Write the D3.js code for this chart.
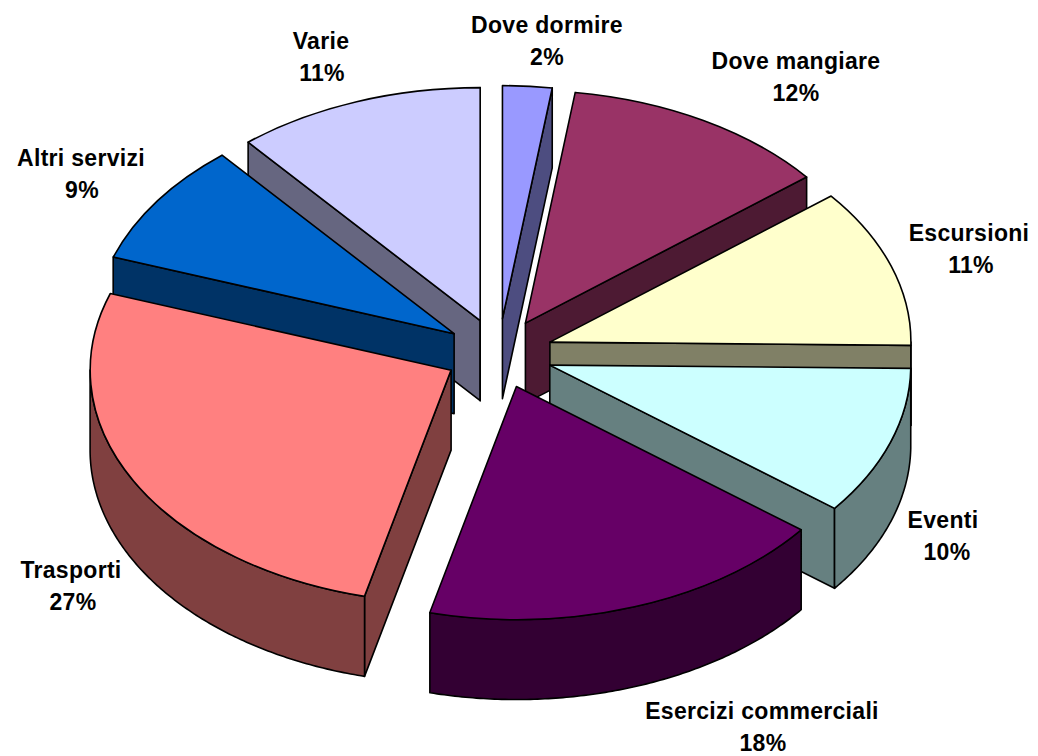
<!DOCTYPE html>
<html>
<head>
<meta charset="utf-8">
<script src="https://cdn.jsdelivr.net/npm/d3@7"></script>
<style>
  html, body { margin: 0; background: #fff; }
  svg { display: block; }
  text { font-family: "Liberation Sans", Arial, sans-serif; font-weight: bold; font-size: 23px; letter-spacing: 0.3px; fill: #000; }
</style>
</head>
<body>
<svg id="chart" width="1038" height="756"></svg>
<script>
// clockwise from 12 o'clock; shares, the labels show them rounded
const categories = ["Dove dormire", "Dove mangiare", "Escursioni", "Eventi", "Esercizi commerciali", "Trasporti", "Altri servizi", "Varie"];
const shares = [2.2, 12.0, 11.0, 10.3, 18.3, 26.45, 8.55, 11.1];
const percentLabels = ["2%", "12%", "11%", "10%", "18%", "27%", "9%", "11%"];

// layout and colours, not data: label x, label baseline, nudge of the percent line
const colors = ["#9999FF", "#993366", "#FFFFCC", "#CCFFFF", "#660066", "#FF8080", "#0066CC", "#CCCCFF"];
const labelAt = [[547, 33, 0], [796, 69, 0], [969, 241, 2], [943, 528, 4], [762, 719, 1], [71, 578, 2], [81, 166, 1], [321, 49, 1]];
const drawOrder = [0, 7, 1, 6, 2, 3, 5, 4];

const cx = 498.7, cy = 353.5, rx = 361, ry = 233, depth = 80, explode = 0.15;
const lineH = 32;

const svg = d3.select("#chart");
const x = d3.scaleLinear().domain([-1, 1]).range([cx - rx, cx + rx]);
const y = d3.scaleLinear().domain([-1, 1]).range([cy - ry, cy + ry]);
const half = c => { const k = d3.rgb(c); return d3.rgb(k.r / 2, k.g / 2, k.b / 2).formatHex(); };

const arcs = d3.pie().sort(null).value(d => d)(shares);
const topFace = d3.arc().innerRadius(0).outerRadius(1);
const poly = d3.line();

function drawSlice(i) {
    const a = arcs[i];
    const mid = (a.startAngle + a.endAngle) / 2;
    const ox = explode * Math.sin(mid), oy = -explode * Math.cos(mid);
    const px = t => x(ox + Math.sin(t));
    const py = t => y(oy - Math.cos(t));
    const ax = x(ox), ay = y(oy);
    const side = half(colors[i]);

    const g = svg.append("g")
        .attr("stroke", "#000").attr("stroke-width", 1.6).attr("stroke-linejoin", "round");

    // cut faces, only the ones turned towards the viewer
    const cut = t => g.append("path")
        .attr("fill", side)
        .attr("d", poly([[ax, ay], [px(t), py(t)], [px(t), py(t) + depth], [ax, ay + depth]]) + "Z");
    if (Math.sin(a.startAngle) < 0) cut(a.startAngle);
    if (Math.sin(a.endAngle) > 0) cut(a.endAngle);

    // rim, front half only
    const from = Math.max(a.startAngle, Math.PI / 2);
    const to = Math.min(a.endAngle, Math.PI * 1.5);
    if (from < to) {
        const wall = d3.area().x(px).y0(py).y1(t => py(t) + depth);
        g.append("path")
            .attr("fill", side)
            .attr("d", wall([...d3.range(from, to, 0.01), to]));
    }

    g.append("path")
        .attr("fill", colors[i])
        .attr("transform", `translate(${ax},${ay}) scale(${rx},${ry})`)
        .attr("vector-effect", "non-scaling-stroke")
        .attr("d", topFace(a));
}

drawOrder.forEach(drawSlice);

categories.forEach((name, i) => {
    const [lx, ly, nudge] = labelAt[i];
    const t = svg.append("text").attr("text-anchor", "middle");
    t.append("tspan").attr("x", lx).attr("y", ly).text(name);
    t.append("tspan").attr("x", lx + nudge).attr("y", ly + lineH).text(percentLabels[i]);
});
</script>
</body>
</html>
